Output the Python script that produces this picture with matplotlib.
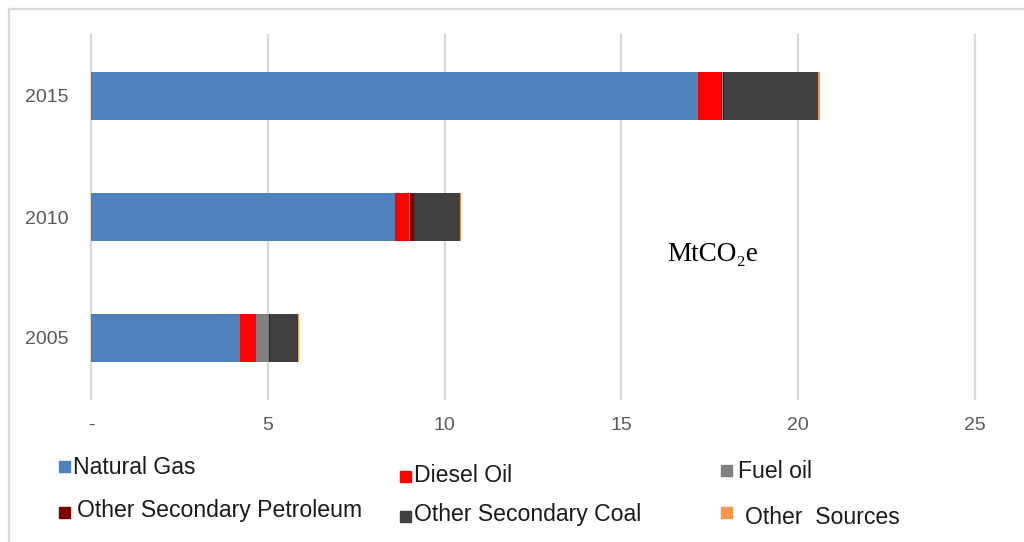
import matplotlib
matplotlib.use("Agg")
import matplotlib.pyplot as plt
from matplotlib.patches import Rectangle
from matplotlib.lines import Line2D
import numpy as np

years = ['2005', '2010', '2015']
series_names = ['Natural Gas', 'Diesel Oil', 'Fuel oil', 'Other Secondary Petroleum',
                'Other Secondary Coal', 'Other  Sources']
natural_gas = [4.21, 8.60, 17.17]
diesel_oil = [0.46, 0.40, 0.67]
fuel_oil = [0.37, 0.02, 0.02]
other_sec_petroleum = [0.02, 0.12, 0.03]
other_sec_coal = [0.80, 1.30, 2.67]
other_sources = [0.03, 0.03, 0.05]
xticks = [0, 5, 10, 15, 20, 25]
xtick_labels = ['-', '5', '10', '15', '20', '25']

colors = ['#4f81bd', '#ff0000', '#808080', '#7f0000', '#404040', '#f79646']
series = [natural_gas, diesel_oil, fuel_oil, other_sec_petroleum, other_sec_coal, other_sources]

W, H = 1024, 542
fig = plt.figure(figsize=(W / 100, H / 100), dpi=100)
ax = fig.add_axes([91 / W, 1 - 398.5 / H, (975 - 91) / W, 363 / H])

y = np.arange(len(years))
left = np.zeros(len(years))
for vals, c in zip(series, colors):
    ax.barh(y, vals, left=left, height=0.4, color=c, zorder=3)
    left += np.array(vals)

ax.set_xlim(0, 25)
ax.set_ylim(-0.5, 2.5)
ax.set_xticks(xticks)
ax.set_xticklabels(xtick_labels)
ax.set_yticks(y)
ax.set_yticklabels(years)
for s in ax.spines.values():
    s.set_visible(False)
ax.tick_params(axis='both', length=0, colors='#595959', labelsize=14)
ax.tick_params(axis='x', pad=13)
ax.tick_params(axis='y', pad=16)
for lab in ax.get_xticklabels() + ax.get_yticklabels():
    lab.set_fontfamily('Liberation Sans')
ax.grid(axis='x', color='#d9d9d9', linewidth=1.6, zorder=0)
for gl in ax.get_xgridlines():
    gl.set_clip_on(False)

ax.text(713 / W, 1 - 255 / H, 'MtCO₂e', transform=fig.transFigure, ha='center', va='center',
        fontsize=19.5, family=['Liberation Serif', 'DejaVu Serif'], color='#000000')

# outer frame (left and top edges)
fig.add_artist(Line2D([9 / W, 9 / W], [0, 1 - 9 / H], color='#d9d9d9', linewidth=1.6))
fig.add_artist(Line2D([9 / W, 1], [1 - 9 / H, 1 - 9 / H], color='#d9d9d9', linewidth=1.6))

# legend
leg_pos = [
    (59, 466, 73, 467),
    (400, 476, 414, 475),
    (721, 470, 738, 472),
    (59, 512, 77, 511),
    (400, 516, 414, 515),
    (721, 512, 745, 517),
]
sq = 11
for (sx, sy, tx, ty), name, c in zip(leg_pos, series_names, colors):
    fig.add_artist(Rectangle((sx / W, 1 - (sy + sq / 2) / H), sq / W, sq / H,
                             transform=fig.transFigure, color=c))
    fig.text(tx / W, 1 - ty / H, name, ha='left', va='center', fontsize=16.6,
             family='Liberation Sans', color='#1a1a1a')

fig.savefig('out.png', dpi=100)
